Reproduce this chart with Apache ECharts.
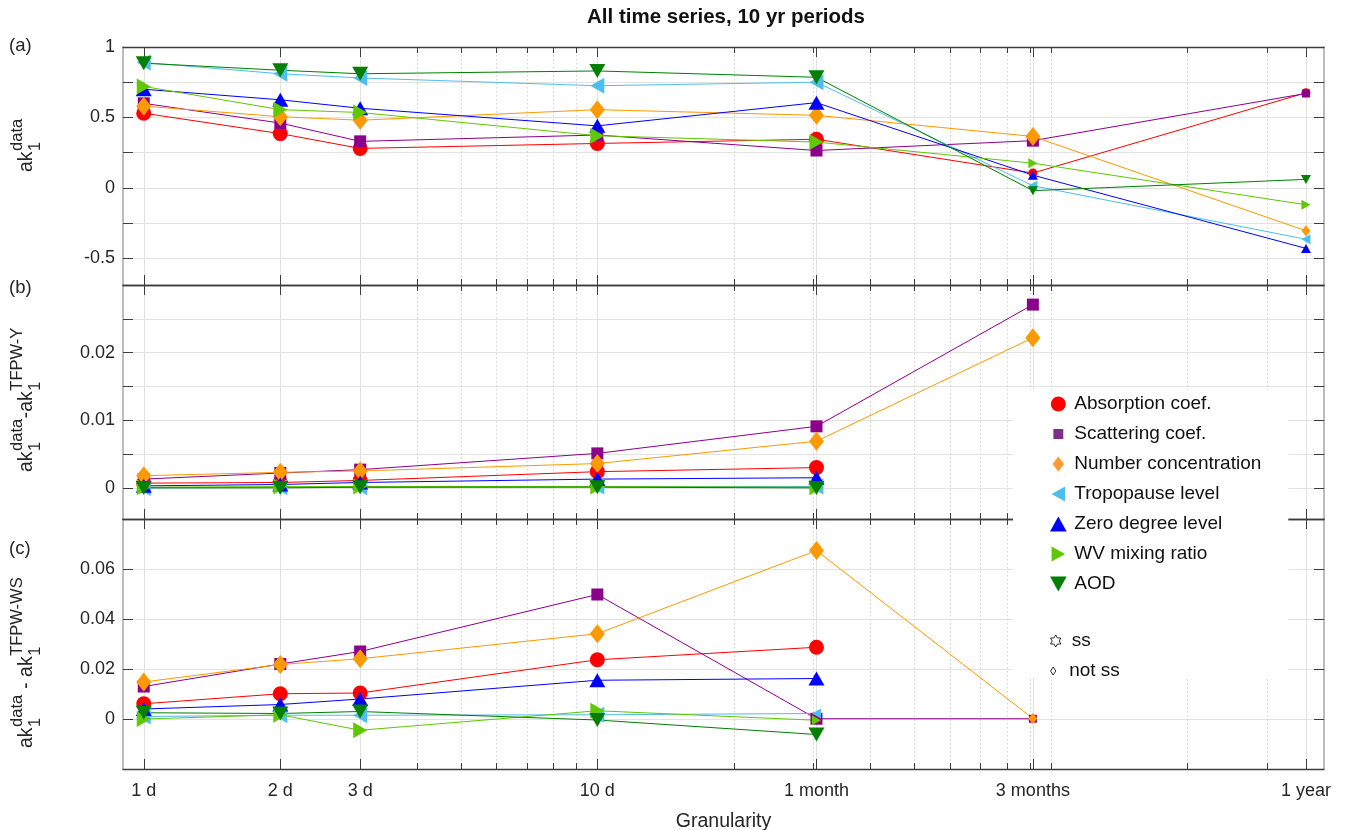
<!DOCTYPE html>
<html><head><meta charset="utf-8">
<script src="https://cdn.jsdelivr.net/npm/echarts@6/dist/echarts.min.js"></script>
<style>html,body{margin:0;padding:0;background:#fff}#c{width:1346px;height:830px}</style>
</head><body><div id="c"></div>
<script>
// ---------- data ----------
const days = [1, 2, 3, 10, 365 / 12, 365 / 4, 365];
const xLabels = ['1 d', '2 d', '3 d', '10 d', '1 month', '3 months', '1 year'];
const minorDays = [4, 5, 6, 7, 8, 9, 20, 30, 40, 50, 60, 70, 80, 90, 100, 200, 300];
const seriesNames = ['Absorption coef.', 'Scattering coef.', 'Number concentration', 'Tropopause level', 'Zero degree level', 'WV mixing ratio', 'AOD'];

// panel (a): ak1 data
const absorptionA = [0.53, 0.385, 0.28, 0.315, 0.345, 0.105, 0.675];
const scatteringA = [0.60, 0.46, 0.33, 0.375, 0.265, 0.335, 0.67];
const numberA     = [0.58, 0.505, 0.48, 0.555, 0.515, 0.365, -0.305];
const tropoA      = [0.89, 0.81, 0.78, 0.725, 0.75, 0.015, -0.365];
const zeroA       = [0.70, 0.625, 0.565, 0.44, 0.605, 0.09, -0.43];
const wvA         = [0.72, 0.555, 0.535, 0.37, 0.325, 0.175, -0.12];
const aodA        = [0.885, 0.835, 0.81, 0.83, 0.785, -0.02, 0.06];
const ssA = [[1,1,1,1,1,0,0],[1,1,1,1,1,1,0],[1,1,1,1,1,1,0],[1,1,1,1,1,0,0],[1,1,1,1,1,0,0],[1,1,1,1,1,0,0],[1,1,1,1,1,0,0]];

// panel (b): ak1 data - ak1 TFPW-Y
const absorptionB = [0.0007, 0.0008, 0.0011, 0.0024, 0.0030, null, null];
const scatteringB = [0.0013, 0.0022, 0.0027, 0.0051, 0.0091, 0.0271, null];
const numberB     = [0.0018, 0.0023, 0.0025, 0.0036, 0.0069, 0.0222, null];
const tropoB      = [0.0000, 0.0001, 0.0001, 0.0002, 0.0002, null, null];
const zeroB       = [0.0003, 0.0005, 0.0008, 0.0013, 0.0015, null, null];
const wvB         = [0.0001, 0.0002, 0.0002, 0.0002, 0.0001, null, null];
const aodB        = [0.0000, 0.0000, 0.0001, 0.0001, 0.0000, null, null];
const ssB = [[1,1,1,1,1,1,1],[1,1,1,1,1,1,1],[1,1,1,1,1,1,1],[1,1,1,1,1,1,1],[1,1,1,1,1,1,1],[1,1,1,1,1,1,1],[1,1,1,1,1,1,1]];

// panel (c): ak1 data - ak1 TFPW-WS
const absorptionC = [0.0061, 0.0101, 0.0104, 0.0237, 0.0287, null, null];
const scatteringC = [0.013, 0.022, 0.027, 0.0498, 0.0001, 0.0001, null];
const numberC     = [0.0148, 0.0218, 0.0241, 0.0341, 0.0674, 0.0002, null];
const tropoC      = [0.0010, 0.0015, 0.0015, 0.0017, 0.0022, null, null];
const zeroC       = [0.0040, 0.0058, 0.0080, 0.0155, 0.0162, null, null];
const wvC         = [0.0000, 0.0017, -0.0045, 0.0033, -0.0005, null, null];
const aodC        = [0.0025, 0.0022, 0.0030, -0.0004, -0.0062, null, null];
const ssC = [[1,1,1,1,1,0,0],[1,1,1,1,1,0,0],[1,1,1,1,1,0,0],[1,1,1,1,0,0,0],[1,1,1,1,1,0,0],[1,1,1,1,0,0,0],[1,1,1,1,1,0,0]];

// y ticks / labels
const yTicksA = [-0.5, -0.25, 0, 0.25, 0.5, 0.75];
const yLabelsA = [-0.5, 0, 0.5, 1];
const yTicksB = [0, 0.005, 0.01, 0.015, 0.02, 0.025];
const yLabelsB = [0, 0.01, 0.02];
const yTicksC = [0, 0.02, 0.04, 0.06];
const yLabelsC = [0, 0.02, 0.04, 0.06];

// ---------- styles ----------
const FONT = '"Liberation Sans", Arial, Helvetica, sans-serif';
const TXT = '#262626';
const squareIcon = 'path://M-2.6,-2.6 L-2.5,-2.6 Z M12.6,12.6 L12.5,12.6 Z M0,0 L10,0 L10,10 L0,10 Z';
const styles = [
  {color:'#ff0000', symbol:'circle', rot:0, size:15, small:9, icon:'circle'},
  {color:'#8b008b', symbol:'rect', rot:0, size:12, small:8, icon:squareIcon, iconColor:'#7e2f8e'},
  {color:'#ff9900', symbol:'diamond', rot:0, size:[15,19], small:[9,11], icon:'path://M5,0 L10,6.5 L5,13 L0,6.5 Z', iconColor:'#ff9a2e'},
  {color:'#4dbeee', symbol:'triangle', rot:90, size:[16,14], small:[10,9], icon:'path://M0,5 L9,0 L9,10 Z'},
  {color:'#0000ff', symbol:'triangle', rot:0, size:[16,14], small:[10,9], icon:'path://M5,0 L10,9 L0,9 Z'},
  {color:'#5fc800', symbol:'triangle', rot:-90, size:[16,14], small:[10,9], icon:'path://M9,5 L0,0 L0,10 Z'},
  {color:'#007f00', symbol:'triangle', rot:180, size:[16,14], small:[10,9], icon:'path://M0,0 L10,0 L5,9 Z'}
];

const panels = [
  {vals:[absorptionA, scatteringA, numberA, tropoA, zeroA, wvA, aodA], ss:ssA, min:-0.69, max:1, ticks:yTicksA, labels:yLabelsA, top:47, height:238},
  {vals:[absorptionB, scatteringB, numberB, tropoB, zeroB, wvB, aodB], ss:ssB, min:-0.0046, max:0.03, ticks:yTicksB, labels:yLabelsB, top:285, height:234},
  {vals:[absorptionC, scatteringC, numberC, tropoC, zeroC, wvC, aodC], ss:ssC, min:-0.02, max:0.08, ticks:yTicksC, labels:yLabelsC, top:519, height:250}
];

function xLabelFmt(v) {
  let best = 0, bd = Infinity;
  days.forEach((d, i) => { const dd = Math.abs(Math.log(v / d)); if (dd < bd) { bd = dd; best = i; } });
  return xLabels[best];
}

const grids = [], xAxes = [], yAxes = [], series = [];
const GRID_LEFT = 123, GRID_W = 1201;
const DARK = '#3c3c3c';
panels.forEach((p, g) => {
  grids.push({left:GRID_LEFT, width:GRID_W, top:p.top, height:p.height, outerBoundsMode:'none', containLabel:false});
  const base = {type:'log', gridIndex:g, min:0.9, max:400, logBase:10};
  // major bottom
  xAxes.push(Object.assign({}, base, {
    position:'bottom',
    axisLine:{show:true, onZero:false, lineStyle:{color:DARK, width:1.3}},
    axisTick:{show:true, inside:true, length:10, customValues:days, lineStyle:{color:DARK}},
    axisLabel:{show:g === 2, customValues:days, formatter:xLabelFmt, margin:13, fontSize:18, color:TXT, fontFamily:FONT},
    splitLine:{show:true, lineStyle:{color:'#e2e2e2', width:1}},
    name: g === 2 ? 'Granularity' : '', nameLocation:'middle', nameGap:43,
    nameTextStyle:{fontSize:19.5, color:TXT, fontFamily:FONT}
  }));
  // minor bottom
  xAxes.push(Object.assign({}, base, {
    position:'bottom',
    axisLine:{show:false, onZero:false},
    axisTick:{show:true, inside:true, length:6, customValues:minorDays, lineStyle:{color:DARK}},
    axisLabel:{show:false, customValues:minorDays},
    splitLine:{show:true, lineStyle:{color:'#d4d4d4', width:1, type:[1.5, 2.5]}}
  }));
  // major top
  xAxes.push(Object.assign({}, base, {
    position:'top',
    axisLine:{show:true, onZero:false, lineStyle:{color:DARK, width:1.3}},
    axisTick:{show:true, inside:true, length:10, customValues:days, lineStyle:{color:DARK}},
    axisLabel:{show:false, customValues:days},
    splitLine:{show:false}
  }));
  // minor top
  xAxes.push(Object.assign({}, base, {
    position:'top',
    axisLine:{show:false, onZero:false},
    axisTick:{show:true, inside:true, length:6, customValues:minorDays, lineStyle:{color:DARK}},
    axisLabel:{show:false, customValues:minorDays},
    splitLine:{show:false}
  }));
  // y left
  yAxes.push({
    type:'value', gridIndex:g, min:p.min, max:p.max, position:'left',
    axisLine:{show:true, onZero:false, lineStyle:{color:'#a6a6a6', width:1.5}},
    axisTick:{show:true, inside:true, length:10, customValues:p.ticks, lineStyle:{color:DARK}},
    axisLabel:{show:true, customValues:p.labels, margin:8, fontSize:18, color:TXT, fontFamily:FONT},
    splitLine:{show:true, lineStyle:{color:'#e2e2e2', width:1}}
  });
  // y right
  yAxes.push({
    type:'value', gridIndex:g, min:p.min, max:p.max, position:'right',
    axisLine:{show:true, onZero:false, lineStyle:{color:'#a6a6a6', width:1.5}},
    axisTick:{show:true, inside:true, length:10, customValues:p.ticks, lineStyle:{color:DARK}},
    axisLabel:{show:false, customValues:p.labels},
    splitLine:{show:false}
  });
  p.vals.forEach((vals, s) => {
    const st = styles[s];
    const data = [];
    vals.forEach((v, i) => {
      if (v === null) return;
      data.push({value:[days[i], v], symbolSize: p.ss[s][i] ? st.size : st.small});
    });
    series.push({
      type:'line', name:seriesNames[s], xAxisIndex:4 * g, yAxisIndex:2 * g, data,
      symbol:st.symbol, symbolRotate:st.rot, symbolKeepAspect:false, showSymbol:true, showAllSymbol:true,
      lineStyle:{color:st.color, width:1}, itemStyle:{color:st.color},
      emphasis:{disabled:true}, silent:true
    });
  });
});

// hexagram for "ss"
const hexPts = [];
for (let k = 0; k < 12; k++) {
  const a = (-90 + k * 30) * Math.PI / 180, r = k % 2 === 0 ? 10 : 5.774;
  hexPts.push((10 + r * Math.cos(a)).toFixed(2) + ',' + (10 + r * Math.sin(a)).toFixed(2));
}
const hexPath = 'path://M' + hexPts.join(' L') + ' Z';
const notSsPath = 'path://M3,0 L6,4.5 L3,9 L0,4.5 Z';
series.push({type:'scatter', name:'ss', xAxisIndex:0, yAxisIndex:0, data:[], symbol:hexPath, itemStyle:{color:'#fff', borderColor:'#000', borderWidth:1}});
series.push({type:'scatter', name:'not ss', xAxisIndex:0, yAxisIndex:0, data:[], symbol:notSsPath, itemStyle:{color:'#fff', borderColor:'#000', borderWidth:1}});

// ---------- y-axis names (rotated, with sub/superscripts) ----------
const mctx = document.createElement('canvas').getContext('2d');
function tw(t, size) { mctx.font = size + 'px ' + FONT; return mctx.measureText(t).width; }
const MAIN = 19.5, SMALL = 16.5;
function yName(parts, x, y) {
  const children = []; let cx = 0;
  parts.forEach(pt => {
    children.push({type:'text', x:cx, y:0, style:{text:pt.t, fontSize:MAIN, fontFamily:FONT, fill:TXT, align:'left', verticalAlign:'middle'}});
    cx += tw(pt.t, MAIN);
    children.push({type:'text', x:cx + 0.5, y:-10, style:{text:pt.sup, fontSize:SMALL, fontFamily:FONT, fill:TXT, align:'left', verticalAlign:'middle'}});
    children.push({type:'text', x:cx + 0.5, y:8.5, style:{text:pt.sub, fontSize:SMALL, fontFamily:FONT, fill:TXT, align:'left', verticalAlign:'middle'}});
    cx += Math.max(tw(pt.sup, SMALL), tw(pt.sub, SMALL)) + 1;
  });
  return {type:'group', x:x, y:y, rotation:Math.PI / 2, children};
}
const graphic = [
  {type:'text', x:726, y:17, style:{text:'All time series, 10 yr periods', fontSize:20.5, fontWeight:'bold', fontFamily:FONT, fill:'#111', align:'center', verticalAlign:'middle'}},
  {type:'text', x:9, y:46, style:{text:'(a)', fontSize:18.5, fontFamily:FONT, fill:TXT, align:'left', verticalAlign:'middle'}},
  {type:'text', x:9, y:288, style:{text:'(b)', fontSize:18.5, fontFamily:FONT, fill:TXT, align:'left', verticalAlign:'middle'}},
  {type:'text', x:9, y:549, style:{text:'(c)', fontSize:18.5, fontFamily:FONT, fill:TXT, align:'left', verticalAlign:'middle'}},
  yName([{t:'ak', sup:'data', sub:'1'}], 27, 172),
  yName([{t:'ak', sup:'data', sub:'1'}, {t:'-ak', sup:'TFPW-Y', sub:'1'}], 27, 472),
  yName([{t:'ak', sup:'data', sub:'1'}, {t:' - ak', sup:'TFPW-WS', sub:'1'}], 27, 748)
];

const legendText = {fontSize:19, color:'#111', fontFamily:FONT, lineHeight:20};
const option = {
  animation:false,
  backgroundColor:'#fff',
  grid:grids, xAxis:xAxes, yAxis:yAxes, series, graphic,
  legend:[
    {orient:'vertical', left:1013, top:390, padding:[4, 27, 84, 37], backgroundColor:'#fff', itemWidth:22, itemHeight:15, itemGap:10,
     selectedMode:false, textStyle:legendText, z:10,
     data:seriesNames.map((n, s) => ({name:n, icon:styles[s].icon, itemStyle:{color:styles[s].iconColor || styles[s].color, borderWidth:0}}))},
    {orient:'vertical', left:1050, top:631, padding:0, itemWidth:22, itemHeight:12, selectedMode:false, textStyle:legendText, z:11,
     data:[{name:'ss', icon:hexPath, itemStyle:{color:'#fff', borderColor:'#000', borderWidth:1}}]},
    {orient:'vertical', left:1050, top:661, padding:0, itemWidth:22, itemHeight:8, selectedMode:false, textStyle:legendText, z:11,
     data:[{name:'not ss', icon:notSsPath, itemStyle:{color:'#fff', borderColor:'#000', borderWidth:1}}]}
  ]
};
const chart = echarts.init(document.getElementById('c'), null, {renderer:'canvas'});
chart.setOption(option);
</script>
</body></html>
